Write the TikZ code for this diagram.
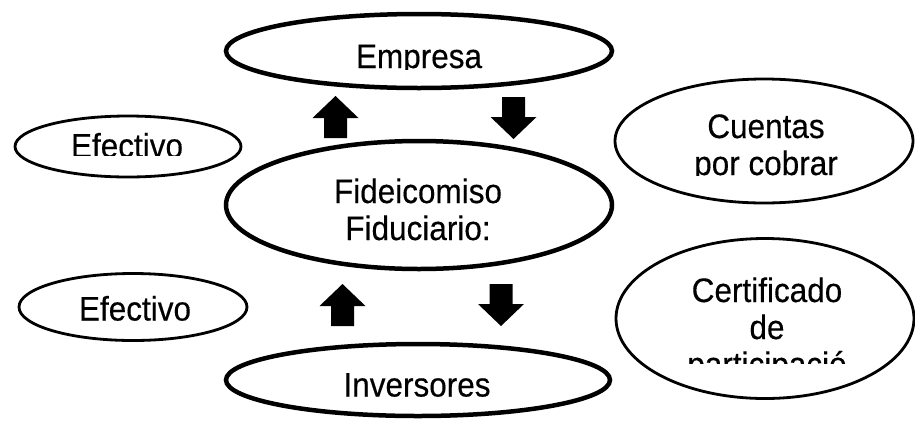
\documentclass[tikz,border=0pt]{standalone}
\usepackage{fontspec}
\setmainfont{Liberation Sans}
\newfontfamily\lblfont{Liberation Sans}[FakeBold=0.35]
\usetikzlibrary{shapes.geometric}
\newcommand{\tallstr}[1]{\scalebox{1}[1.08]{#1}}
\begin{document}
\begin{tikzpicture}[x=1pt,y=-1pt,
  oval/.style={ellipse, draw=black, inner sep=0pt, outer sep=0pt},
  heavyoval/.style={oval, line width=4.5pt},
  lightoval/.style={oval, line width=2.8pt},
  lbl/.style={anchor=base, inner sep=0pt, outer sep=0pt, font=\lblfont\fontsize{31.5}{37}\selectfont},
  uparrow/.pic={\fill[black] (-11.5,0) -- (-11.5,-20) -- (-23,-20) -- (0,-42) -- (23,-20) -- (11.5,-20) -- (11.5,0) -- cycle;}]
\useasboundingbox[fill=white] (0,0) rectangle (915,421);

% ellipses
\node[heavyoval, minimum width=386pt, minimum height=74pt] (empresa) at (419,51) {};
\node[lightoval, minimum width=226pt, minimum height=61pt] (efec1) at (128,146.5) {};
\node[heavyoval, minimum width=386pt, minimum height=128pt] (fide) at (419,205) {};
\node[lightoval, minimum width=298pt, minimum height=124pt] (cuentas) at (764,141) {};
\node[lightoval, minimum width=298pt, minimum height=160pt] (certif) at (765,318.5) {};
\node[lightoval, minimum width=228pt, minimum height=67pt] (efec2) at (133,307) {};
\node[heavyoval, minimum width=384pt, minimum height=72pt] (inv) at (418,380) {};

% texts (clipped as in the reference)
\begin{scope}
  \clip (0,0) rectangle (915,69);
  \node[lbl] (tEmpresa) at (419,68) {\tallstr{Empresa}};
\end{scope}
\begin{scope}
  \clip (0,100) rectangle (300,155);
  \node[lbl] (tEfec1) at (127,157.5) {\tallstr{Efectivo}};
\end{scope}
\node[lbl] (tFide1) at (418,203) {\tallstr{Fideicomiso}};
\node[lbl] (tFide2) at (418,240) {\tallstr{Fiduciario:}};
\begin{scope}
  \clip (620,90) rectangle (915,175.5);
  \node[lbl] (tCuen1) at (766,138) {\tallstr{Cuentas}};
  \node[lbl] (tCuen2) at (766,175) {\tallstr{por cobrar}};
\end{scope}
\begin{scope}
  \clip (620,250) rectangle (915,363);
  \node[lbl] (tCert1) at (767,302) {\tallstr{Certificado}};
  \node[lbl] (tCert2) at (767,339) {\tallstr{de}};
  \node[lbl] (tCert3) at (767,376) {\tallstr{participació}};
\end{scope}
\begin{scope}
  \clip (0,280) rectangle (300,320);
  \node[lbl] (tEfec2) at (135,320.5) {\tallstr{Efectivo}};
\end{scope}
\node[lbl] (tInv) at (417,396.5) {\tallstr{Inversores}};

% block arrows
\pic at (335.5,138) {uparrow};
\pic[rotate=180] at (513.5,97) {uparrow};
\pic at (342.5,326) {uparrow};
\pic[rotate=180] at (501,284) {uparrow};
\end{tikzpicture}
\end{document}
